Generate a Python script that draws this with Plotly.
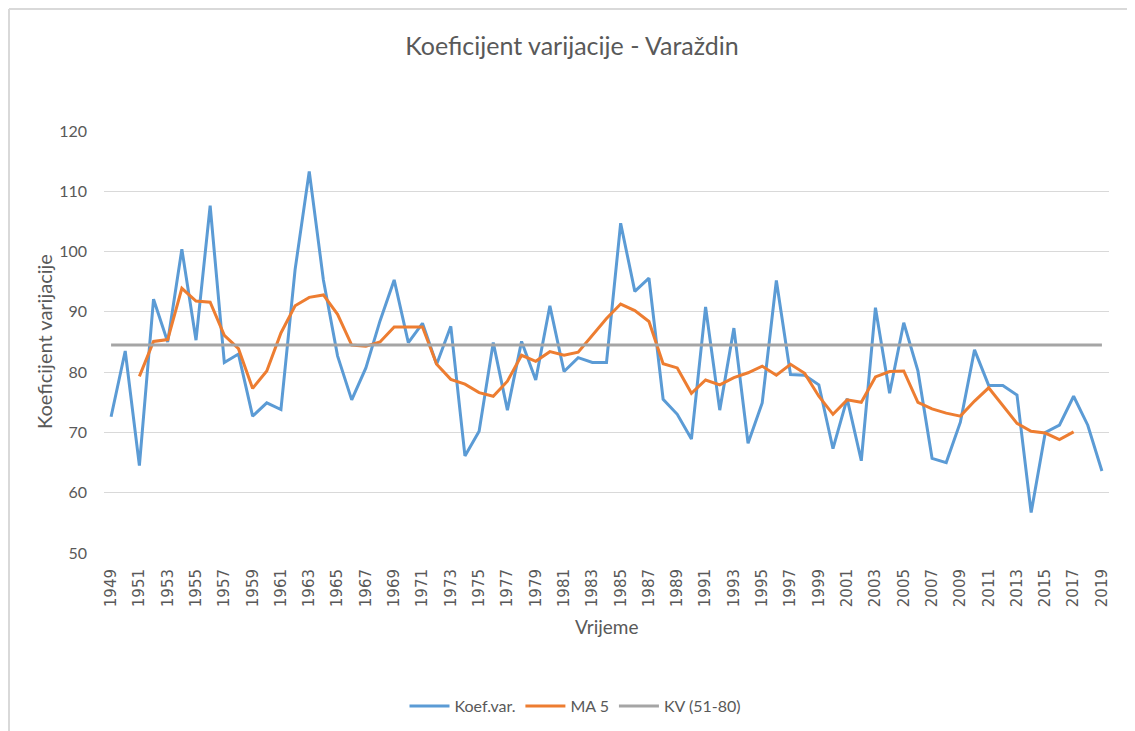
import plotly.graph_objects as go

years = list(range(1949, 2020))
koef_var = [72.6, 83.5, 64.5, 92.1, 85.0, 100.4, 85.3, 107.6, 81.6, 83.0,
            72.7, 74.9, 73.8, 97.0, 113.3, 95.3, 82.7, 75.4, 80.7, 88.5,
            95.3, 84.9, 88.1, 81.3, 87.6, 66.1, 70.2, 84.9, 73.7, 85.1,
            78.7, 91.0, 80.1, 82.4, 81.6, 81.6, 104.7, 93.4, 95.6, 75.5,
            73.0, 68.9, 90.8, 73.7, 87.3, 68.2, 74.9, 95.2, 79.6, 79.5,
            77.9, 67.3, 75.6, 65.3, 90.7, 76.5, 88.2, 80.2, 65.7, 65.0,
            71.7, 83.7, 77.8, 77.8, 76.2, 56.7, 70.0, 71.2, 76.0, 71.2, 63.6]

ma_years = list(range(1951, 2018))
ma5 = [79.3, 85.1, 85.4, 93.9, 91.8, 91.6, 86.1, 83.9, 77.3, 80.2,
       86.5, 91.0, 92.4, 92.8, 89.6, 84.5, 84.3, 85.0, 87.5, 87.5,
       87.5, 81.3, 78.8, 78.0, 76.6, 76.0, 78.5, 82.8, 81.8, 83.4,
       82.8, 83.3, 86.2, 88.9, 91.3, 90.2, 88.4, 81.4, 80.7, 76.5,
       78.7, 77.9, 79.1, 79.9, 81.0, 79.5, 81.3, 79.8, 76.0, 73.0,
       75.4, 75.0, 79.2, 80.1, 80.2, 75.0, 73.9, 73.2, 72.7, 75.2,
       77.4, 74.4, 71.5, 70.2, 69.9, 68.8, 70.1]

kv_ref = 84.5
kv_years = [1949, 2019]
kv_vals = [kv_ref, kv_ref]

tick_years = list(range(1949, 2020, 2))

title_text = "Koeficijent varijacije - Varaždin"
x_title = "Vrijeme"
y_title = "Koeficijent varijacije"

# page body has an 8px margin; layout is expressed in figure pixels
OFF = 8
W, H = 1135, 731
L, R, T, B = 104 - OFF, 1109 - OFF, 131 - OFF, 553 - OFF
PW, PH = R - L, B - T

grey = "#595959"
fig = go.Figure()
fig.add_trace(go.Scatter(x=years, y=koef_var, mode="lines", name="Koef.var.",
                         line=dict(color="#5B9BD5", width=3)))
fig.add_trace(go.Scatter(x=ma_years, y=ma5, mode="lines", name="MA 5",
                         line=dict(color="#ED7D31", width=3)))
fig.add_trace(go.Scatter(x=kv_years, y=kv_vals, mode="lines", name="KV (51-80)",
                         line=dict(color="#A5A5A5", width=3)))

fig.update_layout(
    width=W, height=H,
    margin=dict(l=L, r=W - R, t=T, b=H - B, pad=0),
    paper_bgcolor="white", plot_bgcolor="white",
    font=dict(family="Lato, Open Sans, sans-serif", color=grey, size=16),
    title=dict(text=title_text, x=(572 - OFF) / W, xref="container", xanchor="center",
               y=1 - (46 - OFF) / H, yref="container", yanchor="middle",
               font=dict(size=25, color=grey, family="Lato, Open Sans, sans-serif")),
    showlegend=True,
    legend=dict(orientation="h", xref="container", yref="container",
                x=(575 - OFF) / W, xanchor="center", y=1 - (706 - OFF) / H, yanchor="middle",
                font=dict(size=16, color=grey), itemwidth=40,
                tracegroupgap=0),
    xaxis=dict(range=[1948.5, 2019.5], tickmode="array", tickvals=tick_years,
               ticktext=[str(y) for y in tick_years], tickangle=-90,
               showgrid=False, zeroline=False, showline=False, ticks="",
               ticklabelstandoff=12,
               tickfont=dict(family="DejaVu Sans, sans-serif", size=15, color=grey)),
    yaxis=dict(range=[50, 120], dtick=10, tick0=50, showgrid=True,
               gridcolor="#D9D9D9", gridwidth=1.3, zeroline=False, showline=False,
               ticks="", ticklabelstandoff=16,
               tickfont=dict(family="Lato, Open Sans, sans-serif", size=16, color=grey)),
    annotations=[
        dict(text=x_title, xref="paper", yref="paper", x=0.5,
             y=-(626 - 553) / PH, xanchor="center", yanchor="middle",
             showarrow=False, font=dict(size=19, color=grey)),
        dict(text=y_title, xref="paper", yref="paper", x=-(104 - 44) / PW,
             y=0.5, xanchor="center", yanchor="middle", textangle=-90,
             showarrow=False, font=dict(size=20, color=grey)),
    ],
    shapes=[
        dict(type="line", xref="paper", yref="paper",
             x0=-(L - 1) / PW, x1=(W - L) / PW,
             y0=(B - 1) / PH, y1=(B - 1) / PH,
             line=dict(color="#D9D9D9", width=2), layer="below"),
        dict(type="line", xref="paper", yref="paper",
             x0=-(L - 1) / PW, x1=-(L - 1) / PW,
             y0=(B - 1) / PH, y1=-(H - B) / PH,
             line=dict(color="#D9D9D9", width=2), layer="below"),
    ],
)

fig.write_html("out.html")
